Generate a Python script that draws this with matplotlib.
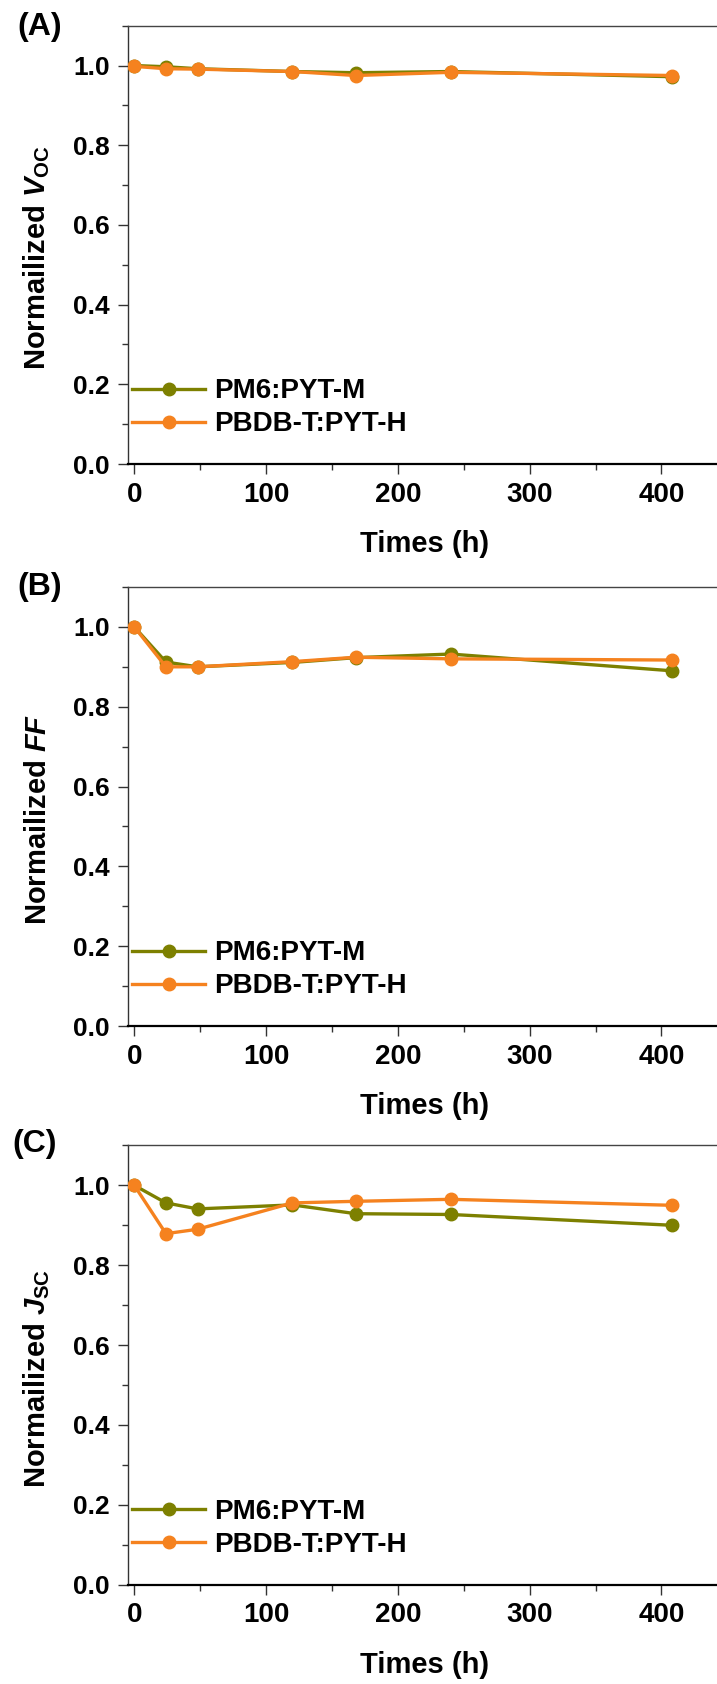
import numpy as np
import matplotlib
matplotlib.use("Agg")
import matplotlib.pyplot as plt
from matplotlib.ticker import MultipleLocator, FormatStrFormatter

plt.rcParams["font.family"] = ["Liberation Sans", "DejaVu Sans"]
plt.rcParams["font.weight"] = "bold"
plt.rcParams["mathtext.fontset"] = "custom"
plt.rcParams["mathtext.rm"] = "Liberation Sans:bold"
plt.rcParams["mathtext.it"] = "Liberation Sans:italic:bold"

# ── data ──────────────────────────────────────────────────────────────────────
times = [0, 24, 48, 120, 168, 240, 408]

voc_pm6  = [1.000, 0.997, 0.992, 0.985, 0.982, 0.985, 0.972]
voc_pbdb = [0.998, 0.992, 0.991, 0.985, 0.975, 0.983, 0.975]

ff_pm6   = [1.000, 0.912, 0.900, 0.911, 0.923, 0.932, 0.890]
ff_pbdb  = [1.000, 0.900, 0.900, 0.913, 0.924, 0.920, 0.917]

jsc_pm6  = [1.000, 0.956, 0.941, 0.951, 0.929, 0.927, 0.900]
jsc_pbdb = [1.000, 0.879, 0.890, 0.956, 0.960, 0.965, 0.950]

labels  = ["PM6:PYT-M", "PBDB-T:PYT-H"]
panels  = ["(A)", "(B)", "(C)"]
ylabels = [r"Normailized $\mathit{V}_{\mathrm{OC}}$",
           r"Normailized $\mathit{FF}$",
           r"Normailized $\mathit{J}_{\mathrm{SC}}$"]

OLIVE  = "#7d8000"
ORANGE = "#f5821f"

# ── layout (pixel measurements of the reference) ─────────────────────────────
W, H = 717, 1684
fig = plt.figure(figsize=(W / 100, H / 100), dpi=100)

ax_left  = 127.7 / W
ax_width = 450 * 1.318 / W
ax_boxes = [(25.7, 464.0), (587.0, 1026.0), (1145.4, 1584.7)]   # top, bottom px
panel_xy = [(17, 12), (17, 572), (12, 1129)]

series = [(voc_pm6, voc_pbdb), (ff_pm6, ff_pbdb), (jsc_pm6, jsc_pbdb)]

for (top, bot), (pm6, pbdb), ylab, pan, (px, py) in zip(
        ax_boxes, series, ylabels, panels, panel_xy):
    ax = fig.add_axes([ax_left, 1 - bot / H, ax_width, (bot - top) / H])

    ax.plot(times, pm6, color=OLIVE, lw=2.4, marker="o", ms=9,
            mec=OLIVE, label=labels[0], zorder=3)
    ax.plot(times, pbdb, color=ORANGE, lw=2.4, marker="o", ms=9,
            mec=ORANGE, label=labels[1], zorder=4)

    ax.set_xlim(-5, 445)
    ax.set_ylim(0, 1.1)
    ax.xaxis.set_major_locator(MultipleLocator(100))
    ax.xaxis.set_minor_locator(MultipleLocator(50))
    ax.yaxis.set_major_locator(MultipleLocator(0.2))
    ax.yaxis.set_minor_locator(MultipleLocator(0.1))
    ax.yaxis.set_major_formatter(FormatStrFormatter("%.1f"))

    ax.tick_params(which="major", direction="out", length=7, width=1.0,
                   pad=5.8, color="#333333")
    ax.tick_params(which="minor", direction="out", length=4, width=1.0,
                   color="#333333")
    ax.tick_params(axis="x", labelsize=20)
    ax.tick_params(axis="y", labelsize=19)
    for t in ax.get_xticklabels() + ax.get_yticklabels():
        t.set_fontweight("bold")

    ax.spines["right"].set_visible(False)
    ax.spines["top"].set_linewidth(1.0)
    ax.spines["top"].set_color("#444444")
    ax.spines["left"].set_linewidth(1.0)
    ax.spines["left"].set_color("#333333")
    ax.spines["bottom"].set_linewidth(1.6)

    ax.set_xlabel("Times (h)", fontsize=21, fontweight="bold", labelpad=16)
    ax.set_ylabel(ylab, fontsize=21, fontweight="bold")
    ax.yaxis.set_label_coords(-0.128, 0.47)

    ax.legend(loc="center left", bbox_to_anchor=(0.008, 0.128),
              frameon=False, handlelength=2.6,
              handletextpad=0.35, labelspacing=0.25,
              borderpad=0, borderaxespad=0,
              prop={"weight": "bold", "size": 20})

    fig.text(px / W, 1 - py / H, pan, fontsize=23, fontweight="bold",
             ha="left", va="top")

fig.savefig("out.png", dpi=100)
